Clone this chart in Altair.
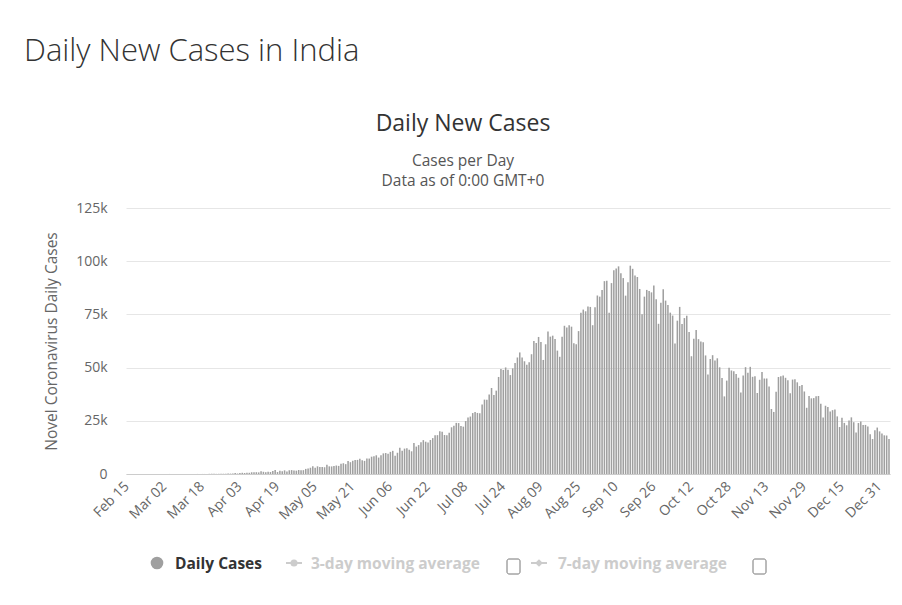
import altair as alt
import pandas as pd

# Daily new cases in India, Feb 15 2020 - Jan 4 2021
feb = [0] * 15
mar = [0, 2, 1, 22, 1, 2, 3, 5, 4, 13, 12, 12, 9, 18, 26, 24, 15, 25, 21, 57, 78, 76, 97, 66, 88, 90, 160, 107, 192, 186, 227]
apr = [437, 235, 478, 566, 490, 573, 565, 813, 871, 854, 758, 1243, 1034, 835, 1076, 922, 1370, 1893, 924, 1540,
       1290, 1707, 1229, 1752, 1835, 1607, 1561, 1873, 1738, 1801]
may = [2396, 2564, 2952, 3656, 2971, 3602, 3344, 3339, 3175, 4311, 3592, 3562, 3726, 3991, 3808, 4794, 5049, 4630,
       6147, 5553, 6198, 6568, 6629, 7111, 6414, 6166, 7246, 7254, 8138, 8364, 8789]
jun = [7723, 8812, 9689, 9849, 9472, 10408, 10882, 8536, 9981, 12329, 10956, 11929, 12085, 11374, 10667, 14516, 12881,
       13586, 14933, 15915, 15183, 14821, 15968, 16868, 18205, 18255, 20131, 19906, 18339, 18256]
jul = [19428, 21947, 22721, 24018, 23932, 22510, 22252, 24879, 26506, 26998, 28637, 29107, 28701, 28498, 32695, 34956,
       34884, 37411, 40425, 37148, 39170, 45601, 49310, 48916, 50072, 48931, 46484, 49632, 52123, 54750, 57118]
aug = [54735, 52972, 51282, 52509, 56282, 62538, 61537, 64399, 62064, 53601, 60963, 66999, 64553, 65002, 63490, 57981,
       55079, 64531, 69652, 68898, 69878, 69239, 61408, 60975, 67151, 75760, 77266, 76472, 78761, 78512, 69921]
sep = [78357, 83883, 83341, 86432, 90632, 90802, 75809, 89706, 95735, 96551, 97570, 94372, 92071, 83809, 90123, 97894,
       96424, 93337, 92605, 86961, 75083, 83347, 86508, 86052, 85362, 88600, 82170, 70589, 80472, 86821]
oct_ = [81484, 79476, 75829, 74442, 61267, 72049, 78524, 70496, 73272, 74383, 66732, 55342, 63509, 67708, 63371, 62212,
        61871, 55722, 46791, 54044, 55839, 53370, 54366, 50129, 45149, 36470, 43893, 49881, 48648, 48268, 46963]
nov = [45231, 38310, 46253, 50210, 47638, 50356, 45674, 45903, 38073, 44281, 47905, 44879, 44878, 41100, 30548, 29163,
       38617, 45576, 45882, 46232, 45209, 44059, 37975, 44376, 44489, 43082, 41322, 41810, 38772, 31118]
dec = [36604, 35551, 35668, 36595, 36652, 32981, 26567, 32080, 31522, 29398, 30006, 30254, 27071, 22065, 26382, 24010,
       22890, 25153, 26624, 24337, 19556, 23950, 24712, 23067, 23068, 22273, 18732, 16432, 20550, 21822, 20035]
jan = [19078, 18177, 18088, 16505]

cases = feb + mar + apr + may + jun + jul + aug + sep + oct_ + nov + dec + jan
dates = pd.date_range("2020-02-15", periods=len(cases), freq="D")
labels = [d.strftime("%b %d") for d in dates]
tick_labels = labels[::16]
y_ticks = [0, 25000, 50000, 75000, 100000, 125000]

df = pd.DataFrame({"date": labels, "cases": cases})

W, H = 764, 266
FONT = "Open Sans"

bars = alt.Chart(df).mark_bar(color="#9f9f9f").encode(
    x=alt.X("date:N", sort=labels,
            scale=alt.Scale(paddingInner=0.35, paddingOuter=0.1),
            axis=alt.Axis(values=tick_labels, labelAngle=-45, labelAlign="right", labelBaseline="middle",
                          labelPadding=10, ticks=False, domainColor="#cccccc", labelColor="#666666",
                          labelFontSize=14, labelFont=FONT, title=None, grid=False, labelOverlap=False)),
    y=alt.Y("cases:Q", scale=alt.Scale(domain=[0, 125000], nice=False),
            axis=alt.Axis(values=y_ticks, labelExpr="datum.value == 0 ? '0' : (datum.value/1000) + 'k'",
                          domain=False, ticks=False, gridColor="#e6e6e6", labelColor="#666666",
                          labelFontSize=14, labelFont=FONT, labelPadding=19,
                          title="Novel Coronavirus Daily Cases", titleColor="#666666", titleFont=FONT,
                          titleFontSize=15.5, titleFontWeight="normal", titleX=-75, titleY=133,
                          titleAngle=-90, titleAlign="center", titleBaseline="middle")),
)


def txt(s, x, y, size, color, weight="normal", align="left"):
    return alt.Chart(pd.DataFrame({"t": [s]})).mark_text(
        font=FONT, fontSize=size, color=color, fontWeight=weight, align=align, baseline="alphabetic"
    ).encode(text="t:N", x=alt.value(x), y=alt.value(y))


ox, oy = 126, 208  # plot origin on page
texts = [
    txt("Daily New Cases in India", 24 - ox, 61 - oy, 31, "#333333", 300),
    txt("Daily New Cases", 463 - ox, 131 - oy, 23, "#333333", "normal", "center"),
    txt("Cases per Day", 463 - ox, 166 - oy, 15.5, "#555555", "normal", "center"),
    txt("Data as of 0:00 GMT+0", 463 - ox, 186 - oy, 15.5, "#555555", "normal", "center"),
    txt("Daily Cases", 175 - ox, 569 - oy, 15.5, "#333333", "bold"),
    txt("3-day moving average", 311 - ox, 569 - oy, 15.5, "#cccccc", "bold"),
    txt("7-day moving average", 558 - ox, 569 - oy, 15.5, "#cccccc", "bold"),
]

one = pd.DataFrame({"k": [0]})
leg_dot = alt.Chart(one).mark_circle(color="#9f9f9f", opacity=1, size=160).encode(
    x=alt.value(157 - ox), y=alt.value(563 - oy))
leg_lines = [
    alt.Chart(one).mark_rule(color="#cccccc", strokeWidth=2).encode(
        x=alt.value(x0 - ox), x2=alt.value(x0 + 16 - ox), y=alt.value(563 - oy))
    for x0 in (286, 531)
]
leg_m1 = alt.Chart(one).mark_point(shape="circle", filled=True, color="#cccccc", opacity=1, size=50).encode(
    x=alt.value(294 - ox), y=alt.value(563 - oy))
leg_m2 = alt.Chart(one).mark_point(shape="diamond", filled=True, color="#cccccc", opacity=1, size=60).encode(
    x=alt.value(539 - ox), y=alt.value(563 - oy))
boxes = [
    alt.Chart(one).mark_rect(fill="white", stroke="#767676", strokeWidth=1, cornerRadius=2).encode(
        x=alt.value(bx - ox), x2=alt.value(bx + 13 - ox), y=alt.value(559 - oy), y2=alt.value(574 - oy))
    for bx in (507, 753)
]

chart = alt.layer(bars, *texts, leg_dot, *leg_lines, leg_m1, leg_m2, *boxes).properties(
    width=W, height=H,
    autosize=alt.AutoSizeParams(type="none"),
    padding={"left": 118, "top": 200, "right": 4, "bottom": 110},
).configure_view(stroke=None)

chart.save("out.html", embed_options={"renderer": "svg", "actions": False})
